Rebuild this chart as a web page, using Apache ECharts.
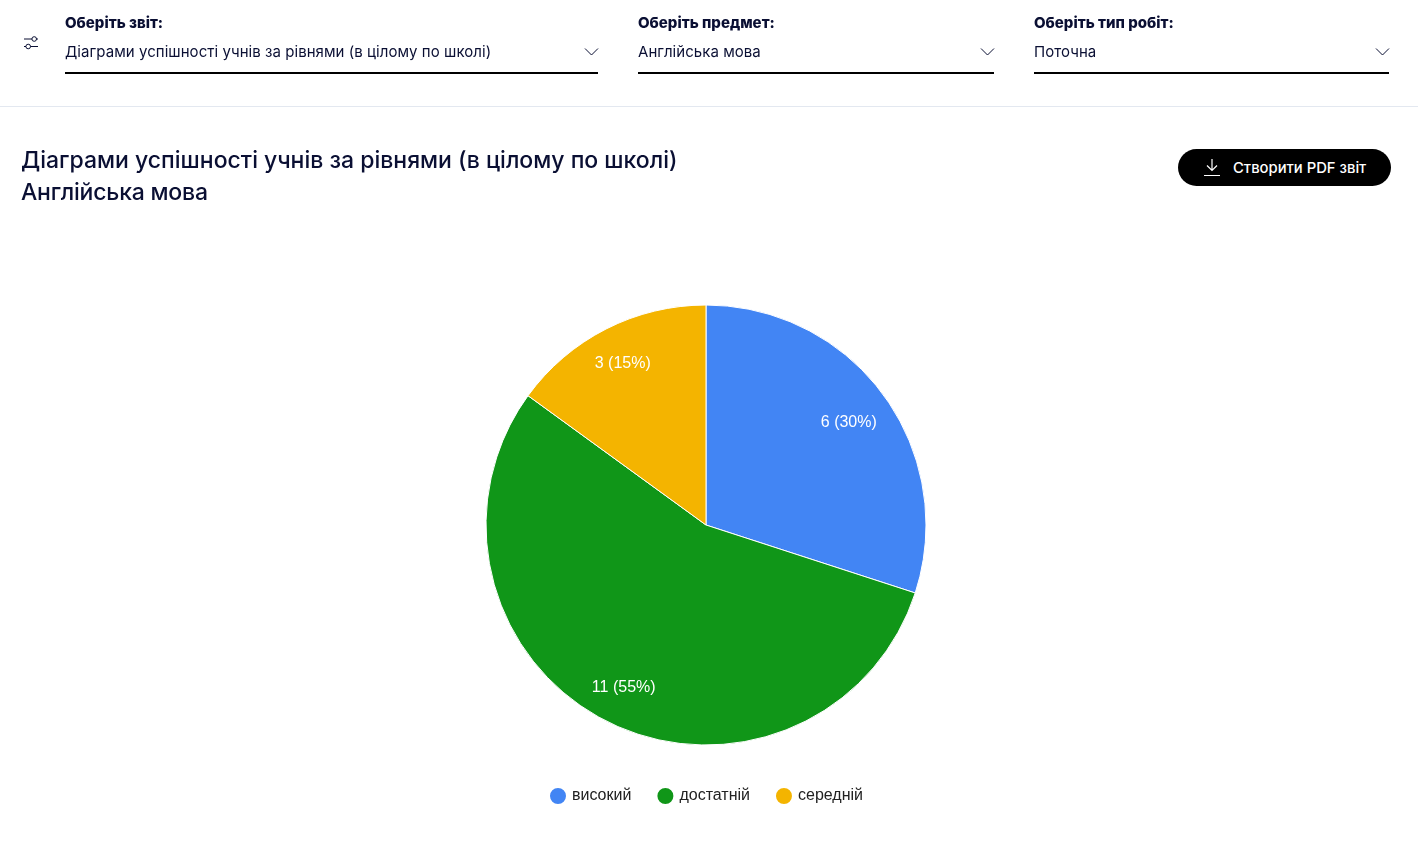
<!DOCTYPE html>
<html lang="uk">
<head>
<meta charset="utf-8">
<title>Діаграми успішності учнів за рівнями</title>
<script src="https://cdn.jsdelivr.net/npm/echarts@6/dist/echarts.min.js"></script>
<style>
  html, body { margin: 0; padding: 0; background: #fff; overflow: hidden; }
  body { width: 1418px; height: 847px; position: relative; font-family: Inter, "Noto Sans", sans-serif; color: #0a0f33; }
  #chart { position: absolute; left: 0; top: 0; width: 1418px; height: 847px; }
  .abs { position: absolute; white-space: nowrap; z-index: 2; }
  .cap { font-size: 15px; font-weight: 800; line-height: 18px; top: 14px; }
  .val { font-size: 15px; font-weight: 400; line-height: 18px; top: 43px; letter-spacing: 0.05px; }
  .rule { height: 2px; background: #000; top: 72px; }
  .divider { left: 0; width: 1418px; height: 1px; top: 106px; background: #e3e8f0; }
  .heading { font-size: 23px; font-weight: 500; line-height: 32px; left: 21px; }
  .btn { left: 1178px; top: 149px; width: 213px; height: 37px; border-radius: 19px; background: #000; }
  .btn span { position: absolute; left: 55px; top: 10px; color: #fff; font-size: 14.8px; font-weight: 500; line-height: 18px; }
  svg.abs { overflow: visible; }
</style>
</head>
<body>
<div id="chart"></div>

<svg class="abs" style="left:24px;top:36px" width="15" height="15" fill="none" stroke="#0a0f33" stroke-width="1">
  <path d="M0 3H8M12.5 3H14M0 10.5H2M6.5 10.5H14"/><circle cx="10.2" cy="3" r="2.3"/><circle cx="4.2" cy="10.5" r="2.3"/>
</svg>

<div class="abs cap" style="left:65px">Оберіть звіт:</div>
<div class="abs val" style="left:65px">Діаграми успішності учнів за рівнями (в цілому по школі)</div>
<svg class="abs chev" style="left:585px;top:48px" width="13" height="8" fill="none" stroke="#0a0f33"><path d="M0 0.5L6.5 7L13 0.5"/></svg>
<div class="abs rule" style="left:65px;width:533px"></div>

<div class="abs cap" style="left:638px">Оберіть предмет:</div>
<div class="abs val" style="left:638px">Англійська мова</div>
<svg class="abs chev" style="left:981px;top:48px" width="13" height="8" fill="none" stroke="#0a0f33"><path d="M0 0.5L6.5 7L13 0.5"/></svg>
<div class="abs rule" style="left:638px;width:356px"></div>

<div class="abs cap" style="left:1034px">Оберіть тип робіт:</div>
<div class="abs val" style="left:1034px">Поточна</div>
<svg class="abs chev" style="left:1376px;top:48px" width="13" height="8" fill="none" stroke="#0a0f33"><path d="M0 0.5L6.5 7L13 0.5"/></svg>
<div class="abs rule" style="left:1034px;width:355px"></div>

<div class="abs divider"></div>

<div class="abs heading" style="top:144px">Діаграми успішності учнів за рівнями (в цілому по школі)</div>
<div class="abs heading" style="top:176px;letter-spacing:-0.2px">Англійська мова</div>

<div class="abs btn">
  <svg style="position:absolute;left:25px;top:9px" width="18" height="19" fill="none" stroke="#fff" stroke-width="1.2">
    <path d="M9 1V12M4 7.5L9 12.5L14 7.5M1 17.5H17"/>
  </svg>
  <span>Створити PDF звіт</span>
</div>

<script>
  // Успішність учнів за рівнями: кількість учнів на кожному рівні
  const levels = ['високий', 'достатній', 'середній'];
  const pupils = [6, 11, 3];
  const levelColors = ['#4285f4', '#109618', '#f4b400'];

  // Невелике зміщення підписів відносно серединного радіуса кільця
  const labelNudge = { 'високий': [-2, 3], 'достатній': [-1, 3], 'середній': [-2, -2] };

  const sliceData = levels.map((name, i) => ({
    name,
    value: pupils[i],
    itemStyle: { color: levelColors[i] }
  }));

  const chart = echarts.init(document.getElementById('chart'), null, { renderer: 'canvas' });
  const center = [706, 525];
  const outer = 220;

  chart.setOption({
    animation: false,
    legend: {
      data: levels,
      left: 548,
      top: 786,
      icon: 'circle',
      itemWidth: 18,
      itemHeight: 18,
      itemGap: 24,
      padding: 0,
      selectedMode: false,
      textStyle: {
        fontFamily: '"Liberation Sans", Arial, sans-serif',
        fontSize: 16,
        color: '#222222'
      }
    },
    series: [
      {
        // Сектори діаграми
        type: 'pie',
        center,
        radius: [0, outer],
        startAngle: 90,
        clockwise: true,
        silent: true,
        avoidLabelOverlap: false,
        label: { show: false },
        labelLine: { show: false },
        itemStyle: { borderColor: '#ffffff', borderWidth: 1 },
        data: sliceData
      },
      {
        // Прозоре кільце, що тримає підписи всередині секторів
        type: 'pie',
        center,
        radius: [outer * 0.6, outer],
        startAngle: 90,
        clockwise: true,
        silent: true,
        avoidLabelOverlap: false,
        itemStyle: { color: 'transparent', borderWidth: 0 },
        labelLine: { show: false },
        label: {
          show: true,
          position: 'inside',
          formatter: (p) => p.value + ' (' + Math.round(p.percent) + '%)',
          color: '#ffffff',
          fontFamily: '"Liberation Sans", Arial, sans-serif',
          fontSize: 16
        },
        data: levels.map((name, i) => ({
          name,
          value: pupils[i],
          itemStyle: { color: 'transparent' },
          label: { offset: labelNudge[name] }
        }))
      }
    ]
  });
</script>
</body>
</html>
